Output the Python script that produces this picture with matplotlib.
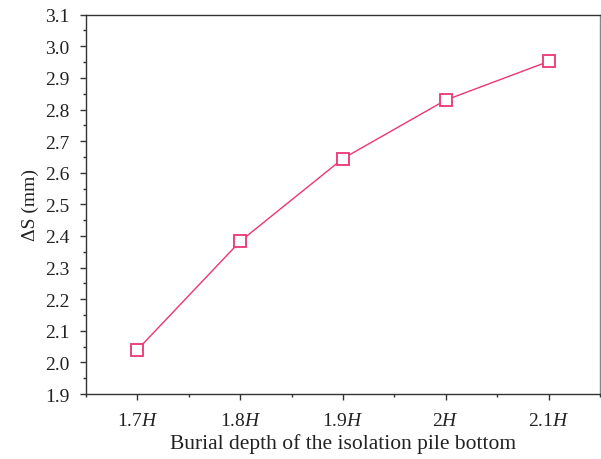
import matplotlib
matplotlib.use("Agg")
import matplotlib.pyplot as plt
from matplotlib.ticker import MultipleLocator

plt.rcParams['font.family'] = ['Liberation Serif', 'DejaVu Serif']
plt.rcParams['mathtext.fontset'] = 'custom'
plt.rcParams['mathtext.rm'] = 'Liberation Serif'
plt.rcParams['mathtext.it'] = 'Liberation Serif:italic'

depth = [1.7, 1.8, 1.9, 2.0, 2.1]
tick_labels = ["1.7$H$", "1.8$H$", "1.9$H$", "2$H$", "2.1$H$"]
delta_s = [2.04, 2.383, 2.645, 2.83, 2.952]

color = "#EC3574"
fig = plt.figure(figsize=(6.01, 4.60), dpi=100)
ax = fig.add_axes([0.1431, 0.1413, 0.8552, 0.8246])
ax.plot(depth, delta_s, color=color, lw=1.0, marker='s', markersize=9,
        markerfacecolor='white', markeredgecolor=color, markeredgewidth=1.3)

ax.set_xlim(1.65, 2.15)
ax.set_ylim(1.9, 3.1)
ax.set_xticks(depth)
ax.set_xticklabels(tick_labels)
ax.xaxis.set_minor_locator(MultipleLocator(0.05))
ax.yaxis.set_major_locator(MultipleLocator(0.1))
ax.yaxis.set_minor_locator(MultipleLocator(0.05))
ax.yaxis.set_major_formatter(matplotlib.ticker.FormatStrFormatter('%.1f'))

for s in ax.spines.values():
    s.set_color('#333333')
    s.set_linewidth(1.0)
ax.spines['right'].set_color('#888888')
ax.tick_params(which='major', direction='out', length=4, width=1, color='#333333',
               labelsize=14, labelcolor='#222222', pad=8)
ax.tick_params(which='minor', direction='out', length=2.5, width=1, color='#333333')
ax.tick_params(axis='x', which='major', pad=9)

ax.set_xlabel("Burial depth of the isolation pile bottom", fontsize=15.5, color='#222222', labelpad=3)
ax.set_ylabel("ΔS (mm)", fontsize=14, color='#222222', labelpad=4)

fig.savefig("out.png", dpi=100)
